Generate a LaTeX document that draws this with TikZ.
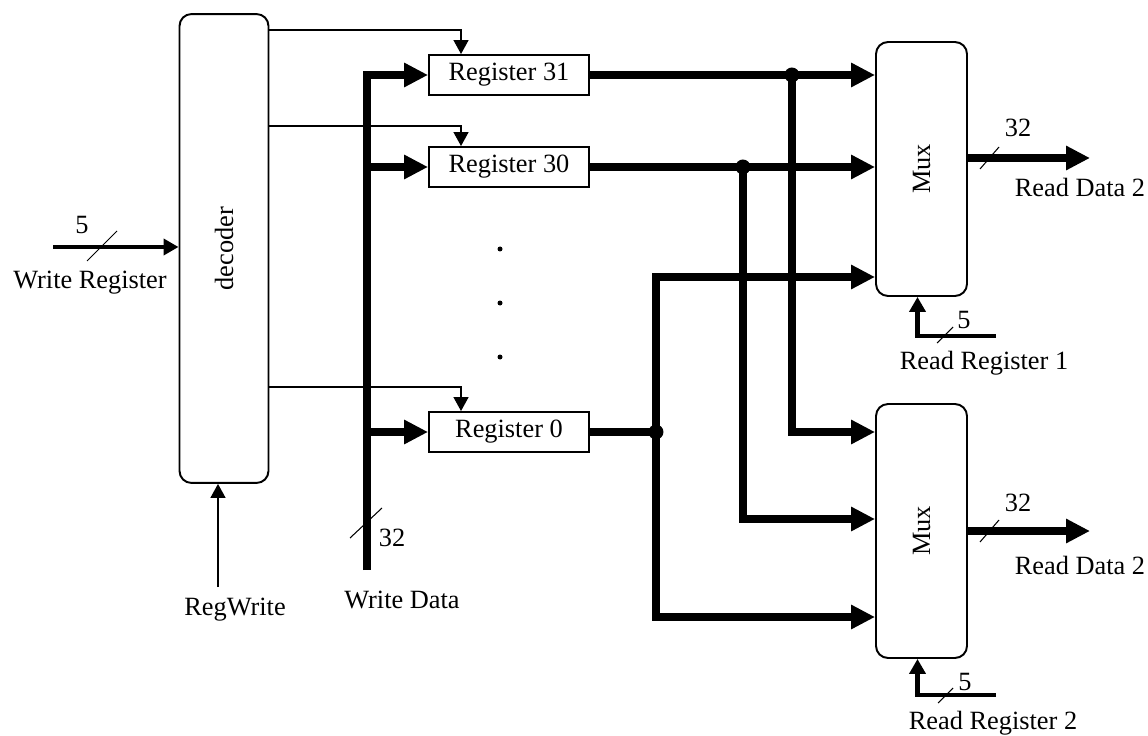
\documentclass[tikz,border=0pt]{standalone}
\usepackage{fontspec}
\setmainfont{Liberation Serif}
\usetikzlibrary{arrows.meta,positioning,calc}

\begin{document}
\begin{tikzpicture}[
  x=0.02cm, y=-0.02cm,
  every node/.style={font=\fontsize{15}{18}\selectfont, inner sep=0pt},
  roundbox/.style={draw, line width=1.1pt, rounded corners=0.24cm},
  regbox/.style={draw, line width=1.1pt, minimum width=3.2cm, minimum height=0.8cm},
  busarrow/.style={line width=4.5pt, -{Triangle[length=0.48cm,width=0.46cm]}},
  selarrow/.style={line width=2.5pt, -{Triangle[length=0.3cm,width=0.32cm]}},
  ctrlarrow/.style={line width=0.8pt, -{Triangle[length=0.28cm,width=0.3cm]}},
  tick/.style={line width=0.6pt},
  joint/.style={circle, fill, minimum size=0.3cm},
  ]
  \useasboundingbox (0,0) rectangle (1148,736);

  \node[roundbox, minimum width=1.78cm, minimum height=9.38cm, label={[rotate=90]center:decoder}] (dec) at (224,248.5) {};
  \node[regbox] (reg31) at (509,75)  {Register 31};
  \node[regbox] (reg30) at (509,167) {Register 30};
  \node[regbox] (reg0)  at (509,432) {Register 0};
  \node[roundbox, minimum width=1.82cm, minimum height=5.08cm, label={[rotate=90]center:Mux}] (mux1) at (921.5,169) {};
  \node[roundbox, minimum width=1.82cm, minimum height=5.08cm, label={[rotate=90]center:Mux}] (mux2) at (921.5,531) {};

  \foreach \yy in {249,303,357} \fill (500,\yy) circle (0.05cm);

  \coordinate (wrin) at (53,247);
  \coordinate (rwin) at (218,587);
  \coordinate (wdin) at (367,570);
  \coordinate (rd1) at (1090,158);
  \coordinate (rd2) at (1090,531);
  \coordinate (rr1) at (996,336);
  \coordinate (rr2) at (996,695);

  \draw[selarrow] (wrin) -- (wrin -| dec.west);
  \draw[ctrlarrow] (rwin) -- (rwin |- dec.south);
  \foreach \r/\yy in {reg31/30, reg30/126, reg0/387}
    \draw[ctrlarrow] (dec.east |- 0,\yy) -| ([xshift=-0.96cm]\r.north);

  \draw[busarrow] (wdin) |- (reg31.west);
  \foreach \r in {reg30, reg0}
    \draw[busarrow] (wdin |- \r.west) -- (\r.west);

  \path (reg31.east) ++(202,0) coordinate (j31);
  \path (reg30.east) ++(153,0) coordinate (j30);
  \path (reg0.east)  ++(66,0)  coordinate (j0);
  \draw[busarrow] (reg31.east) -- (reg31.east -| mux1.west);
  \draw[busarrow] (reg30.east) -- (reg30.east -| mux1.west);
  \draw[line width=4.5pt] (reg0.east) -- (j0);
  \draw[busarrow] (j31) |- (reg0.east -| mux2.west);
  \draw[busarrow] (j30) |- ($(mux2.west)+(0,-12)$);
  \draw[busarrow] (j0) |- ($(mux1.west)+(0,108)$);
  \draw[busarrow] (j0) |- ($(mux2.west)+(0,86)$);
  \node[joint] (d31) at (j31) {};
  \node[joint] (d30) at (j30) {};
  \node[joint] (d0)  at (j0)  {};

  \draw[busarrow] (rd1 -| mux1.east) -- (rd1);
  \draw[busarrow] (rd2 -| mux2.east) -- (rd2);
  \draw[selarrow] (rr1) -| ([xshift=-0.08cm]mux1.south);
  \draw[selarrow] (rr2) -| ([xshift=-0.08cm]mux2.south);

  \draw[tick] (87,261) -- (117,231);
  \draw[tick] (350,538) -- (382,508);
  \draw[tick] (980,169) -- (999,147);
  \draw[tick] (980,542) -- (999,520);
  \draw[tick] (937,343) -- (953,327);
  \draw[tick] (938,703) -- (953,688);

  \node (wrw)    at (82,225)   {5};
  \node (wrlbl)  at (90,283)   {Write Register};
  \node (rwlbl)  at (235,610)  {RegWrite};
  \node (wdw)    at (392,538)  {32};
  \node (wdlbl)  at (402,600)  {Write Data};
  \node (rd1w)   at (1018,128) {32};
  \node (rd1lbl) at (1080,187) {Read Data 2};
  \node (rd2w)   at (1018,503) {32};
  \node (rd2lbl) at (1080,565) {Read Data 2};
  \node (rr1w)   at (964,320)  {5};
  \node (rr1lbl) at (984,363)  {Read Register 1};
  \node (rr2w)   at (965,682)  {5};
  \node (rr2lbl) at (993,723)  {Read Register 2};
\end{tikzpicture}
\end{document}
